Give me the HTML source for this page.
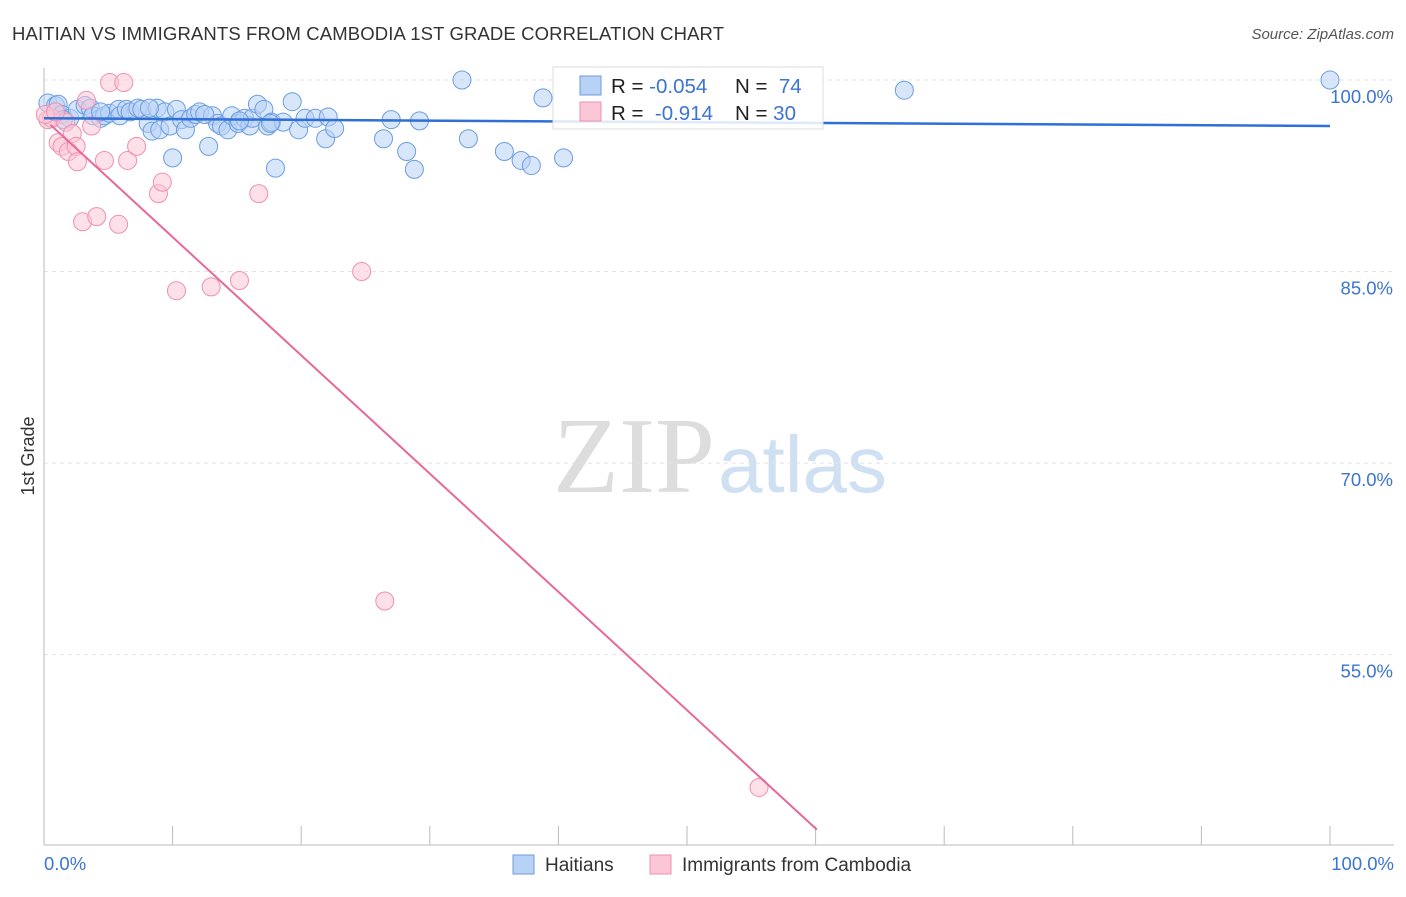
<!DOCTYPE html>
<html><head><meta charset="utf-8"><style>
body{margin:0;background:#fff;font-family:"Liberation Sans",sans-serif}
</style></head><body>
<svg width="1406" height="892" xmlns="http://www.w3.org/2000/svg">
<text x="12" y="40" font-size="18.5" fill="#333" textLength="712">HAITIAN VS IMMIGRANTS FROM CAMBODIA 1ST GRADE CORRELATION CHART</text>
<text x="1394" y="39" font-size="15" fill="#555" font-style="italic" text-anchor="end">Source: ZipAtlas.com</text>
<text x="34" y="456" font-size="18" fill="#333" transform="rotate(-90 34 456)" text-anchor="middle">1st Grade</text>
<g>
<text x="553" y="492" font-size="108" font-family="Liberation Serif,serif" fill="#ddd">ZIP</text>
<text x="718" y="492" font-size="80" fill="#cfe0f3">atlas</text>
</g>
<g id="grid"></g>
<g id="ticks"></g>
<line x1="44" y1="68" x2="44" y2="845" stroke="#bbb"/>
<line x1="44" y1="845" x2="1394" y2="845" stroke="#bbb"/>
<g id="pts"></g>
<g id="lines"></g>
<text x="44" y="870" font-size="18.5" fill="#3b74d1">0.0%</text>
<text x="1394" y="870" font-size="18.5" fill="#3b74d1" text-anchor="end">100.0%</text>
<g>
<rect x="553" y="67" width="270" height="62" fill="#fff" fill-opacity="0.85" stroke="#ddd"/>
<rect x="580" y="76" width="21" height="19" fill="#b8d2f5" stroke="#6b9de0"/>
<rect x="580" y="102" width="21" height="19" fill="#fbc6d6" stroke="#f08fb0"/>
<text x="611" y="93" font-size="20.5" fill="#222">R = <tspan fill="#3b74d1">-0.054</tspan><tspan x="735">N = </tspan><tspan fill="#3b74d1">&#160;74</tspan></text>
<text x="611" y="120" font-size="20.5" fill="#222">R = <tspan fill="#3b74d1">&#160;-0.914</tspan><tspan x="735">N = </tspan><tspan fill="#3b74d1">30</tspan></text>
</g>
<g>
<rect x="513" y="855" width="21" height="19" fill="#b8d2f5" stroke="#6b9de0"/>
<text x="545" y="871" font-size="19" fill="#333">Haitians</text></g>
<g>
<rect x="650" y="855" width="21" height="19" fill="#fbc6d6" stroke="#f08fb0"/>
<text x="682" y="871" font-size="19" fill="#333">Immigrants from Cambodia</text></g>
</svg>
<script>
const yTicks=[100,85,70,55];
const yTickLabels=["100.0%","85.0%","70.0%","55.0%"];
const xTicks=[0,10,20,30,40,50,60,70,80,90,100];
const blueX=[0.3,0.9,1.1,1.4,2.0,2.6,3.2,3.6,3.8,4.4,4.7,5.1,5.8,5.9,6.4,6.7,7.3,7.6,8.1,8.4,8.8,9.0,9.4,9.8,10.0,10.3,10.7,11.0,11.4,11.8,12.1,12.8,13.1,13.5,13.8,14.3,14.6,15.1,15.6,16.0,16.2,16.6,17.1,17.4,17.7,18.0,18.6,19.3,19.8,20.3,21.1,21.9,22.1,22.6,26.4,27.0,28.2,28.8,29.2,32.5,33.0,35.8,37.1,37.9,38.8,40.4,66.9,100,1.5,4.4,8.2,12.5,15.2,17.6];
const blueY=[98.2,98.0,98.1,97.3,97.0,97.7,98.0,97.8,97.2,97.0,97.2,97.4,97.7,97.2,97.7,97.5,97.8,97.7,96.6,96.0,97.8,96.1,97.5,96.4,93.9,97.7,96.9,96.1,97.0,97.3,97.5,94.8,97.2,96.6,96.4,96.1,97.2,96.6,97.0,96.4,97.0,98.1,97.7,96.4,96.7,93.1,96.7,98.3,96.1,97.0,97.0,95.4,97.1,96.2,95.4,96.9,94.4,93.0,96.8,100,95.4,94.4,93.7,93.3,98.6,93.9,99.2,100,96.9,97.5,97.8,97.3,96.8,96.6];
const pinkX=[0.3,0.6,1.1,1.4,1.7,1.9,2.2,2.5,2.6,3.0,3.3,3.7,4.1,4.7,5.1,5.8,6.2,6.5,7.2,8.9,9.2,10.3,13.0,15.2,16.7,24.7,26.5,55.6,0.1,0.9];
const pinkY=[96.9,97.0,95.1,94.8,96.7,94.4,95.8,94.8,93.6,88.9,98.4,96.4,89.3,93.7,99.8,88.7,99.8,93.7,94.8,91.1,92.0,83.5,83.8,84.3,91.1,85.0,59.2,44.6,97.3,97.5];
const blueTrend=[[0,97.0],[100,96.4]];
const pinkTrend=[[0.5,96.5],[60.1,41.3]];
const NS="http://www.w3.org/2000/svg";
const sx=v=>44+v*12.86, sy=v=>80+(100-v)*12.77;
function mk(t,a,p){const e=document.createElementNS(NS,t);for(const k in a)e.setAttribute(k,a[k]);document.getElementById(p).appendChild(e);return e;}
yTicks.forEach((v,i)=>{
 const l=mk('line',{x1:44,x2:1394,y1:sy(v),y2:sy(v),stroke:'#e2e2e2','stroke-dasharray':'4,4'},'grid');
 
 
 const t=mk('text',{x:1393,y:sy(v)+23,'font-size':18.5,fill:'#3b74d1','text-anchor':'end'},'grid');
 t.textContent=yTickLabels[i];
 
 
});
xTicks.forEach(v=>{
 const l=mk('line',{x1:sx(v),x2:sx(v),y1:826,y2:845,stroke:'#bbb'},'ticks');
 
 
});
blueX.forEach((x,i)=>{
 const c=mk('circle',{cx:sx(x),cy:sy(blueY[i]),r:9,fill:'#b8d2f5','fill-opacity':0.55,stroke:'#6b9de0','stroke-width':1},'pts');
 
 
});
pinkX.forEach((x,i)=>{
 const c=mk('circle',{cx:sx(x),cy:sy(pinkY[i]),r:9,fill:'#fbc6d6','fill-opacity':0.55,stroke:'#f08fb0','stroke-width':1},'pts');
 
 
});
const bl=mk('line',{x1:sx(blueTrend[0][0]),y1:sy(blueTrend[0][1]),x2:sx(blueTrend[1][0]),y2:sy(blueTrend[1][1]),stroke:'#2f6fd6','stroke-width':2.5},'lines');


const pl=mk('line',{x1:sx(pinkTrend[0][0]),y1:sy(pinkTrend[0][1]),x2:sx(pinkTrend[1][0]),y2:sy(pinkTrend[1][1]),stroke:'#e8689a','stroke-width':2},'lines');


</script>
</body></html>
